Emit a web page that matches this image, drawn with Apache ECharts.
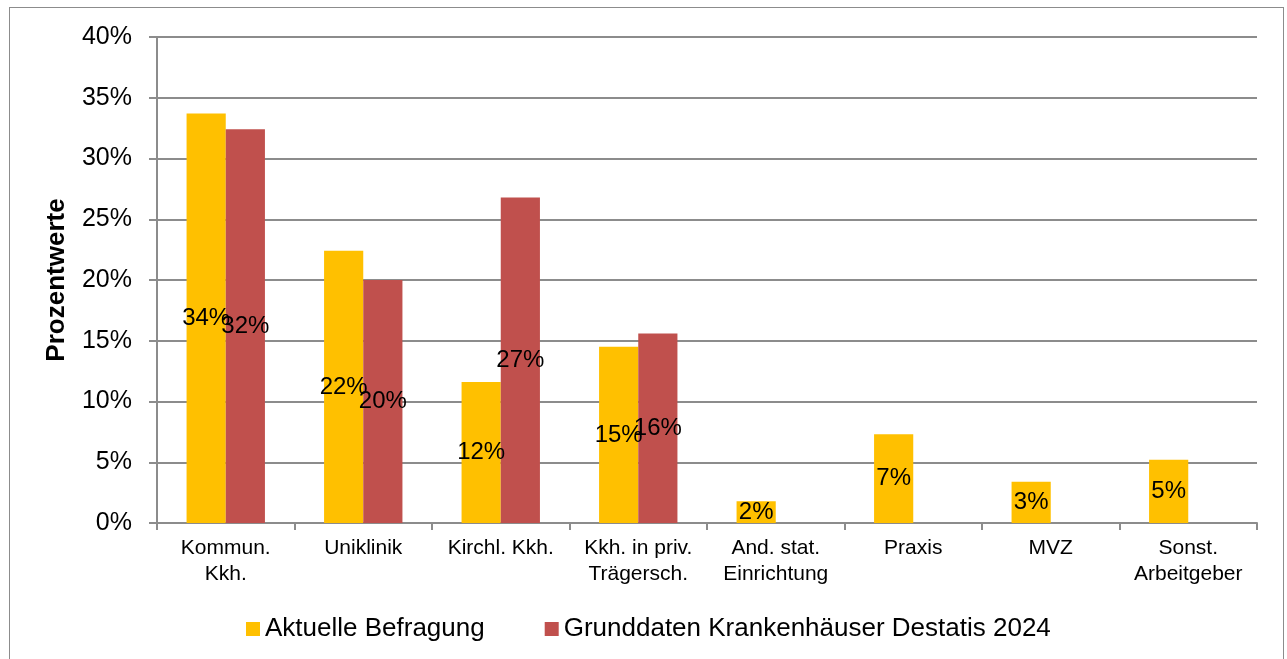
<!DOCTYPE html>
<html>
<head>
<meta charset="utf-8">
<script src="https://cdn.jsdelivr.net/npm/echarts@6/dist/echarts.min.js"></script>
<style>
  html, body { margin: 0; padding: 0; background: #fff; }
  #frame { position: absolute; left: 9px; top: 7px; width: 1275px; height: 660px; border: 1px solid #8c8c8c; box-sizing: border-box; }
  #main { position: absolute; left: 0; top: 0; width: 1287px; height: 659px; }
</style>
</head>
<body>
<div id="frame"></div>
<div id="main"></div>
<script>
const categories = [
  "Kommun.\nKkh.",
  "Uniklinik",
  "Kirchl. Kkh.",
  "Kkh. in priv.\nTrägersch.",
  "And. stat.\nEinrichtung",
  "Praxis",
  "MVZ",
  "Sonst.\nArbeitgeber",
];
const aktuelle = [33.7, 22.4, 11.6, 14.5, 1.8, 7.3, 3.4, 5.2];
const destatis = [32.4, 20.0, 26.8, 15.6, null, null, null, null];
const yTicks = [0, 5, 10, 15, 20, 25, 30, 35, 40];

const font = "Liberation Sans, Arial, sans-serif";
const myChart = echarts.init(document.getElementById("main"));

const barLabel = {
  show: true,
  position: "inside",
  color: "#000",
  fontFamily: font,
  fontSize: 24,
  formatter: (p) => Math.round(p.value) + "%",
};

const option = {
  animation: false,
  textStyle: { fontFamily: font },
  grid: { left: 157, right: 30, top: 37, bottom: 136, containLabel: false },
  legend: {
    top: 611,
    left: 241,
    itemWidth: 14,
    itemHeight: 14,
    itemGap: 60,
    icon: "rect",
    textStyle: { fontSize: 26, color: "#000", fontFamily: font },
    data: ["Aktuelle Befragung", "Grunddaten Krankenhäuser Destatis 2024"],
  },
  xAxis: {
    type: "category",
    data: categories,
    axisLine: { lineStyle: { color: "#8c8c8c", width: 2 } },
    axisTick: { show: true, length: 7, lineStyle: { color: "#8c8c8c", width: 2 } },
    axisLabel: { color: "#000", fontSize: 21, lineHeight: 26, margin: 12, interval: 0 },
  },
  yAxis: {
    type: "value",
    min: yTicks[0],
    max: yTicks[yTicks.length - 1],
    interval: 5,
    name: "Prozentwerte",
    nameLocation: "middle",
    nameGap: 87,
    nameTextStyle: { fontSize: 26, fontWeight: "bold", color: "#000", fontFamily: font },
    axisLine: { show: true, lineStyle: { color: "#8c8c8c", width: 2 } },
    axisTick: { show: true, length: 8, lineStyle: { color: "#8c8c8c", width: 2 } },
    axisLabel: { color: "#000", fontSize: 25, margin: 25, formatter: "{value}%" },
    splitLine: { lineStyle: { color: "#8c8c8c", width: 2 } },
  },
  series: [
    {
      name: "Aktuelle Befragung",
      type: "bar",
      data: aktuelle,
      barWidth: "28.5%",
      barGap: "0%",
      itemStyle: { color: "#FFC000" },
      label: barLabel,
    },
    {
      name: "Grunddaten Krankenhäuser Destatis 2024",
      type: "bar",
      data: destatis,
      barWidth: "28.5%",
      barGap: "0%",
      itemStyle: { color: "#C0504D" },
      label: barLabel,
    },
  ],
};
myChart.setOption(option);
</script>
</body>
</html>
